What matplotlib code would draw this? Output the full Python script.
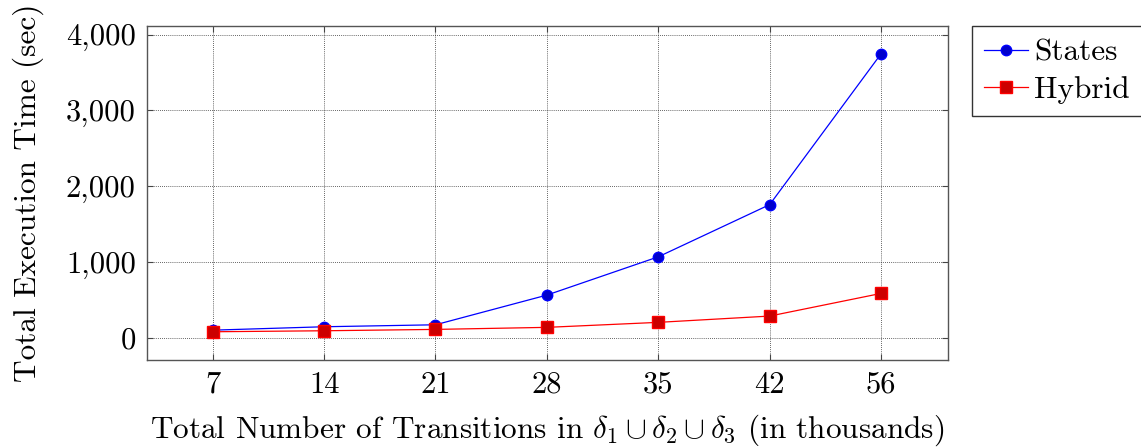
import numpy as np
import matplotlib
matplotlib.use("Agg")
import matplotlib.pyplot as plt
from matplotlib.ticker import FuncFormatter

plt.rcParams['font.family'] = 'cmr10'
plt.rcParams['mathtext.fontset'] = 'cm'
plt.rcParams['axes.unicode_minus'] = False

# data
transitions = ["7", "14", "21", "28", "35", "42", "56"]
states_time = [100, 145, 171, 563, 1068, 1757, 3748]
hybrid_time = [79, 92, 110, 137, 203, 286, 585]
y_ticks = [0, 1000, 2000, 3000, 4000]

fig = plt.figure(figsize=(11.41, 4.47), dpi=100)
ax = fig.add_axes([0.1288, 0.1946, 0.702, 0.747])

x = np.arange(len(transitions))
ax.plot(x, states_time, color='#0000ff', lw=0.9, marker='o', markersize=7.5,
        markerfacecolor='#0000cc', markeredgecolor='#0000ff', label='States')
ax.plot(x, hybrid_time, color='#ff0000', lw=0.9, marker='s', markersize=8,
        markerfacecolor='#cc0000', markeredgecolor='#ff0000', label='Hybrid')

ax.set_xlim(-0.59, 6.6)
ax.set_ylim(-294, 4113)
ax.set_xticks(x)
ax.set_xticklabels(transitions)
ax.set_yticks(y_ticks)
ax.yaxis.set_major_formatter(FuncFormatter(lambda v, p: f"{int(v):,}"))

ax.grid(True, color='black', linestyle=(0, (1, 1.5)), linewidth=0.6, alpha=0.8)
ax.set_axisbelow(True)
ax.tick_params(direction='in', length=4, width=0.8, color='#444444',
               top=True, right=True, labelsize=22, pad=8)
for s in ax.spines.values():
    s.set_color('#555555')
    s.set_linewidth(1.0)

ax.set_xlabel(r"Total Number of Transitions in $\delta_1 \cup \delta_2 \cup \delta_3$ (in thousands)",
              fontsize=22.5, labelpad=10)
ax.set_ylabel("Total Execution Time (sec)", fontsize=22.5, labelpad=16)

leg = ax.legend(loc='upper left', bbox_to_anchor=(1.03, 1.0), fontsize=22.5,
                frameon=True, fancybox=False, edgecolor='black',
                handlelength=1.4, borderpad=0.4, labelspacing=0.3,
                handletextpad=0.2, borderaxespad=0)
leg.get_frame().set_linewidth(1.0)

fig.savefig("out.png", dpi=100)
